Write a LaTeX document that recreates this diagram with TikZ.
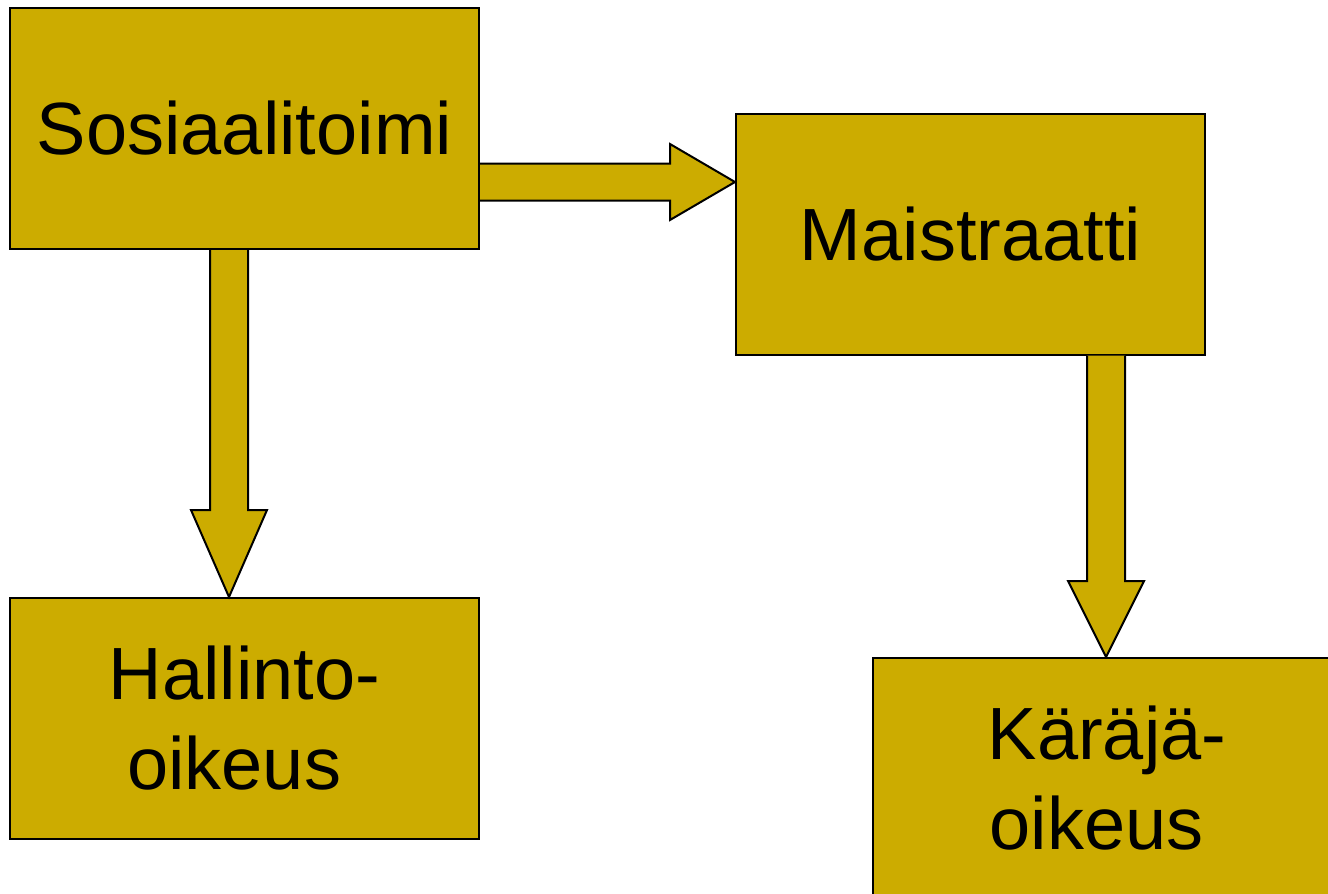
\documentclass[tikz,border=0pt]{standalone}
\usepackage{fontspec}
\setmainfont{Liberation Sans}
\usetikzlibrary{positioning,calc}
\definecolor{boxgold}{HTML}{CCAC00}

\begin{document}
\begin{tikzpicture}[x=1pt,y=-1pt,
box/.style={draw, line width=2pt, fill=boxgold, minimum width=469pt,
  minimum height=241pt, inner sep=0pt, align=center,
  font=\fontsize{74}{90}\selectfont},
blockarrow/.style={draw, line width=2pt, fill=boxgold, line join=miter}]
        \useasboundingbox (0,0) rectangle (1328,894);
        \clip (0,0) rectangle (1328,894);
        \node [box] (soc) at (244.5,128.5) {Sosiaalitoimi};
        \node [box] (mai) at (970.5,234) {Maistraatti};
        \node [box] (hal) at (244.5,718.5) {Hallinto-\\\mbox{oikeus\ }};
        \node [box] (kar) at (1107,778.5) {Käräjä-\\\mbox{oikeus\ }};
        % block arrows
        \coordinate (a1) at ($(soc.east)+(0,53.5)$);
        \coordinate (t1) at (a1 -| mai.west);
        \draw [blockarrow] ($(a1)+(0,-18.5)$) -- ($(t1)+(-65,-18.5)$) -- ($(t1)+(-65,-38)$)
            -- (t1) -- ($(t1)+(-65,38)$) -- ($(t1)+(-65,18.5)$) -- ($(a1)+(0,18.5)$);
        \coordinate (a2) at ($(soc.south)+(-15.5,0)$);
        \coordinate (t2) at (a2 |- hal.north);
        \draw [blockarrow] ($(a2)+(-19,0)$) -- ($(t2)+(-19,-87)$) -- ($(t2)+(-38,-87)$)
            -- (t2) -- ($(t2)+(38,-87)$) -- ($(t2)+(19,-87)$) -- ($(a2)+(19,0)$);
        \coordinate (a3) at ($(mai.south)+(135.5,0)$);
        \coordinate (t3) at (a3 |- kar.north);
        \draw [blockarrow] ($(a3)+(-19,0)$) -- ($(t3)+(-19,-76)$) -- ($(t3)+(-38,-76)$)
            -- (t3) -- ($(t3)+(38,-76)$) -- ($(t3)+(19,-76)$) -- ($(a3)+(19,0)$);
    \end{tikzpicture}
\end{document}
